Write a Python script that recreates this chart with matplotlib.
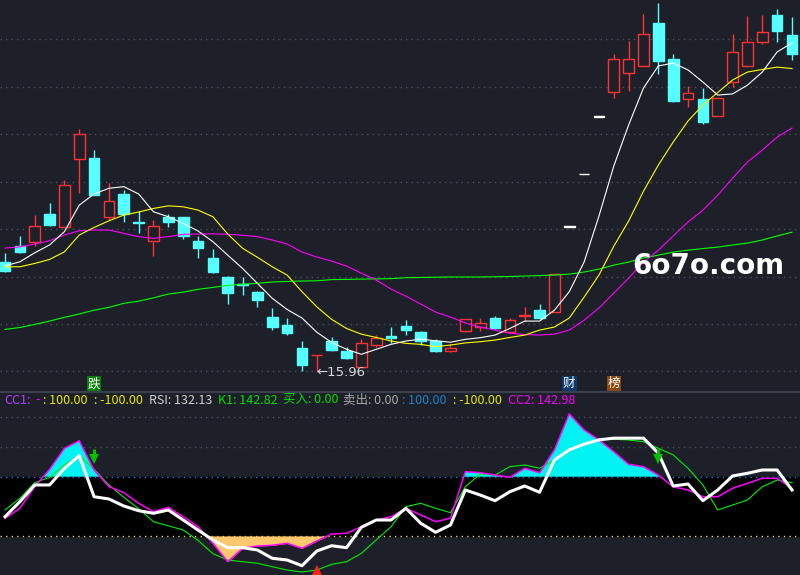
import matplotlib.pyplot as plt
import numpy as np
from matplotlib.lines import Line2D

plt.rcParams['font.family'] = ['Noto Sans CJK SC', 'DejaVu Sans']

bg = '#1e2029'

# daily candles (price)
opens = [20.61, 21.28, 21.44, 22.63, 22.07, 24.94, 25.00, 22.49, 23.48, 22.29,
         21.48, 22.51, 22.51, 21.49, 20.79, 19.98, 19.68, 19.34, 18.29, 17.95,
         16.97, 16.68, 17.28, 16.87, 16.19, 17.10, 17.50, 17.91, 17.66, 17.29,
         16.87, 17.71, 17.85, 18.23, 17.64, 18.35, 18.57, 18.51, 22.10, 24.31,
         26.74, 27.77, 28.57, 28.89, 30.69, 29.17, 27.47, 27.48, 26.75, 28.19,
         28.86, 29.88, 31.03, 30.18]
closes = [20.24, 21.04, 22.11, 22.18, 23.84, 26.00, 23.45, 23.18, 22.65, 22.27,
          22.11, 22.31, 21.72, 21.21, 20.20, 19.31, 19.66, 19.02, 17.87, 17.63,
          16.26, 16.69, 16.90, 16.57, 17.18, 17.40, 17.42, 17.75, 17.26, 16.84,
          16.99, 18.19, 18.04, 17.82, 18.16, 18.37, 18.26, 20.09, 22.10, 24.31,
          26.74, 29.16, 29.16, 30.23, 29.09, 27.41, 27.72, 26.53, 27.51, 29.45,
          29.88, 30.32, 30.37, 29.39]
highs = [21.00, 21.70, 22.59, 23.10, 24.07, 26.22, 25.33, 23.94, 23.65, 22.76,
         22.38, 22.62, 22.51, 21.72, 21.16, 20.02, 19.98, 19.37, 18.67, 18.25,
         17.28, 16.70, 17.47, 17.01, 17.35, 17.52, 17.85, 18.16, 17.70, 17.37,
         17.14, 18.19, 18.23, 18.33, 18.26, 18.71, 18.85, 20.09, 22.10, 24.31,
         26.74, 29.38, 29.93, 31.07, 31.53, 29.38, 28.03, 27.95, 27.51, 30.23,
         30.99, 31.03, 31.28, 30.94]
lows = [20.20, 21.00, 21.30, 22.13, 22.07, 23.53, 23.45, 22.38, 22.31, 21.84,
        20.87, 22.10, 21.59, 20.79, 20.15, 18.85, 19.23, 18.72, 17.75, 17.54,
        16.02, 15.96, 16.87, 16.53, 16.19, 17.04, 17.21, 17.52, 17.12, 16.80,
        16.83, 17.64, 17.70, 17.77, 17.60, 18.11, 18.22, 18.51, 22.10, 24.31,
        26.74, 27.54, 27.83, 28.89, 28.55, 27.37, 27.16, 26.44, 26.75, 28.00,
        28.86, 29.79, 29.88, 29.14]

# moving averages
ma5 = [20.45, 20.62, 21.00, 21.33, 21.89, 23.01, 23.48, 23.72, 23.79, 23.48,
       22.73, 22.52, 22.24, 21.92, 21.47, 20.90, 20.34, 19.71, 19.08, 18.61,
       18.25, 17.65, 17.22, 16.93, 16.72, 16.93, 17.14, 17.28, 17.36, 17.29,
       17.23, 17.35, 17.42, 17.53, 17.81, 18.12, 18.12, 18.58, 19.36, 20.61,
       22.55, 24.66, 26.39, 27.95, 28.88, 29.00, 28.71, 28.20, 27.65, 27.70,
       28.07, 28.62, 29.47, 29.85]
ma10 = [20.41, 20.41, 20.55, 20.72, 21.04, 21.75, 22.07, 22.35, 22.59, 22.72,
        22.87, 22.98, 22.94, 22.80, 22.52, 21.79, 21.19, 20.81, 20.41, 20.06,
        19.36, 18.72, 18.19, 17.81, 17.57, 17.43, 17.28, 17.18, 17.14, 17.04,
        17.11, 17.20, 17.25, 17.32, 17.43, 17.53, 17.74, 17.87, 18.25, 19.13,
        20.06, 21.28, 22.34, 23.60, 24.70, 25.67, 26.56, 27.23, 27.76, 28.29,
        28.62, 28.73, 28.83, 28.77]
ma30 = [21.20, 21.25, 21.37, 21.51, 21.75, 21.93, 21.96, 21.96, 21.82, 21.68,
        21.61, 21.68, 21.78, 21.79, 21.80, 21.78, 21.74, 21.68, 21.54, 21.37,
        21.03, 20.82, 20.65, 20.44, 20.14, 19.85, 19.47, 19.17, 18.84, 18.50,
        18.29, 18.04, 17.87, 17.74, 17.61, 17.55, 17.53, 17.57, 17.74, 18.16,
        18.67, 19.30, 19.93, 20.61, 21.11, 21.71, 22.30, 22.80, 23.43, 24.15,
        24.83, 25.33, 25.88, 26.26]
ma60 = [17.77, 17.85, 17.98, 18.12, 18.28, 18.42, 18.58, 18.70, 18.87, 18.96,
        19.10, 19.26, 19.34, 19.46, 19.54, 19.63, 19.68, 19.71, 19.77, 19.79,
        19.81, 19.82, 19.87, 19.88, 19.89, 19.90, 19.91, 19.95, 19.96, 19.97,
        19.98, 19.98, 19.98, 19.99, 20.00, 20.02, 20.04, 20.06, 20.10, 20.19,
        20.31, 20.48, 20.61, 20.78, 20.90, 21.03, 21.11, 21.18, 21.24, 21.33,
        21.41, 21.54, 21.71, 21.87]

# lower indicator
rsi = [-35.1, 15.5, 72.0, 72.0, 128.0, 170.9, 32.4, 24.7, 1.0, -14.9,
       -23.6, -12.5, -46.3, -80.1, -113.8, -139.8, -139.8, -147.6, -175.6, -181.4,
       -200.6, -151.0, -133.1, -139.8, -70.9, -46.3, -46.3, -6.8, -57.4, -87.8,
       -63.2, 55.1, 38.2, 18.9, 49.3, 68.6, 47.3, 156.4, 190.5, 209.9,
       224.3, 230.1, 230.1, 230.1, 179.4, 68.6, 75.3, 18.9, 55.1, 102.4,
       111.5, 122.6, 122.6, 55.1]
cc2 = [-40.5, -6.8, 66.2, 125.0, 195.9, 221.6, 122.6, 66.2, 45.9, 10.1,
       -18.2, -3.4, -35.1, -69.0, -125.0, -187.1, -141.9, -134.1, -131.7, -125.0,
       -141.9, -117.2, -93.6, -91.2, -69.0, -46.3, -35.1, -6.8, -29.4, -52.0,
       -40.5, 116.9, 113.5, 105.7, 98.0, 128.4, 113.5, 190.5, 312.1, 258.1,
       224.3, 184.4, 141.9, 133.8, 105.7, 66.2, 55.1, 32.4, 32.4, 60.8,
       77.7, 94.6, 94.6, 60.8]
k1 = [-12.5, 27.0, 79.7, 97.9, 139.5, 170.9, 125.0, 72.0, 30.4, -8.0,
      -52.0, -66.0, -80.0, -115.0, -160.0, -181.4, -187.1, -192.5, -204.0, -215.2,
      -221.9, -215.2, -195.9, -187.1, -158.8, -113.8, -68.9, -1.4, 10.1, -6.8,
      -21.6, 66.2, 109.1, 105.7, 133.8, 139.5, 128.4, 156.4, 192.5, 212.8,
      226.3, 226.3, 224.0, 218.2, 195.9, 173.3, 128.4, 72.0, -12.5, 4.4,
      21.3, 66.2, 88.8, 79.7]

sell_days = [6, 44]
buy_days = [21]

o, c, h, l = map(np.array, (opens, closes, highs, lows))
x = np.arange(len(o))

fig = plt.figure(figsize=(8, 5.75), dpi=100, facecolor=bg)
ax = fig.add_axes([0, 183 / 575, 1, 392 / 575], facecolor=bg)
ax2 = fig.add_axes([0, 0, 1, 183 / 575], facecolor=bg)
for a in (ax, ax2):
    a.set_xticks([]), a.set_yticks([])
    for s in a.spines.values():
        s.set_visible(False)
    a.set_xlim(-0.337, 53.54)
ax.set_ylim(15.13, 31.66)
ax2.set_ylim(-232, 386)

dots = (0, (1, 3))
for p in range(16, 31, 2):
    ax.axhline(p, color='#4c505c', ls=dots, lw=1, zorder=0)

# candles
up = c >= o
flat = h == l
col = np.where(flat, 'white', np.where(up, '#ff3333', '#55ffff'))
face = np.where(flat, 'white', np.where(up, bg, '#55ffff'))
ax.vlines(x, l, h, colors=col, lw=1.0, zorder=2)
ax.bar(x, np.maximum(np.abs(c - o), 0.03), bottom=np.minimum(o, c), width=0.72,
       color=face, edgecolor=col, linewidth=1.0, zorder=3)

ax.plot(x, ma60, color='#00ff00', lw=0.8, zorder=4)
ax.plot(x, ma30, color='#ff00ff', lw=0.8, zorder=4)
ax.plot(x, ma10, color='#ffff00', lw=0.8, zorder=4)
ax.plot(x, ma5, color='white', lw=0.8, zorder=4)

ax.text(21, l[21], '\u219015.96', color='#d8d8d8', fontsize=9.5, ha='left', va='center',
        family=['DejaVu Sans'])

tr = ax.get_xaxis_transform()
for d, ch, fc in [(6, '跌', '#0a7d0a'), (38, '财', '#0e3a6e'), (41, '榜', '#8a4a10')]:
    ax.text(d, 0.021, ch, transform=tr, color='white', fontsize=9, ha='center', va='center',
            bbox=dict(boxstyle='square,pad=0.08', fc=fc, ec='none'))

fig.text(632 / 800, 1 - 266 / 575, '6o7o.com', color='white', fontsize=20,
         weight='bold', va='center', family=['DejaVu Sans'])

# lower panel
ax2.axhspan(-100, 100, color='black', zorder=0)
for lv, cl in [(300, '#4c505c'), (200, '#4c505c'), (100, '#1e80c8'), (-100, '#d8d860')]:
    ax2.axhline(lv, color=cl, ls=dots, lw=1, zorder=1)

cc = np.array(cc2)
ax2.fill_between(x, cc, 100, where=cc > 100, interpolate=True, color='#00f2f2', lw=0, zorder=2)
ax2.fill_between(x, cc, -100, where=cc < -100, interpolate=True, color='#ffc86e', lw=0, zorder=2)
ax2.plot(x, k1, color='#00ee00', lw=0.8, zorder=3)
ax2.plot(x, cc2, color='#ff00ff', lw=1.1, zorder=3)
ax2.plot(x, rsi, color='white', lw=2.2, zorder=4)

# signal arrows
for d in sell_days:
    ax2.vlines(d, 170, 195, color='#00c000', lw=2.2, zorder=5)
    ax2.plot(d, 160, marker='v', ms=7, color='#00c000', mew=0, zorder=5)
for d in buy_days:
    ax2.plot(d, -215, marker='^', ms=7, color='#ff2020', mew=0, zorder=5)

fig.add_artist(Line2D([0, 1], [183 / 575, 183 / 575], color='#3a3f4e', lw=1.5))

legend = [(4, 'CC1:', '#b040ff'), (35, '-', '#ff00ff'), (43, ': 100.00', '#e6e600'),
          (94, ': -100.00', '#e6e600'), (149, 'RSI: 132.13', '#d0d0d0'),
          (218, 'K1: 142.82', '#00e000'), (283, '买入: 0.00', '#00e000'),
          (343, '卖出: 0.00', '#a8a8a8'), (402, ': 100.00', '#1e80c8'),
          (453, ': -100.00', '#e6e600'), (508, 'CC2: 142.98', '#ff00ff')]
for px, t, cl in legend:
    fig.text(px / 800, 1 - 400 / 575, t, color=cl, fontsize=9, va='center')

fig.savefig('out.png', dpi=100, facecolor=bg)
